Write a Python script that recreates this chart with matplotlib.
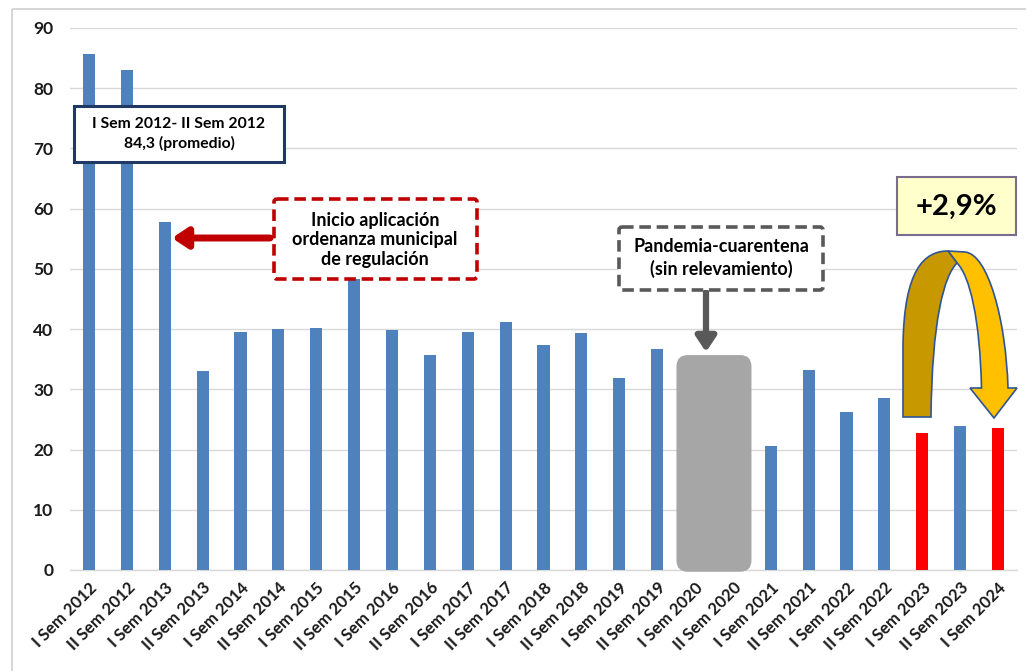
import matplotlib
matplotlib.use("Agg")
import matplotlib.pyplot as plt
from matplotlib.patches import Rectangle, FancyBboxPatch, PathPatch
from matplotlib.path import Path
from matplotlib.transforms import Affine2D

# ---------------- data ----------------
categories = [
    "I Sem 2012", "II Sem 2012", "I Sem 2013", "II Sem 2013", "I Sem 2014",
    "II Sem 2014", "I Sem 2015", "II Sem 2015", "I Sem 2016", "II Sem 2016",
    "I Sem 2017", "II Sem 2017", "I Sem 2018", "II Sem 2018", "I Sem 2019",
    "II Sem 2019", "I Sem 2020", "II Sem 2020", "I Sem 2021", "II Sem 2021",
    "I Sem 2022", "II Sem 2022", "I Sem 2023", "II Sem 2023", "I Sem 2024",
]
values = [85.7, 83.0, 57.8, 33.1, 39.5, 40.0, 40.2, 52.0, 39.9, 35.7,
          39.5, 41.2, 37.4, 39.4, 31.9, 36.7, None, None, 20.6, 33.2,
          26.2, 28.6, 22.8, 23.9, 23.5]
highlight = ["I Sem 2023", "I Sem 2024"]
y_ticks = [0, 10, 20, 30, 40, 50, 60, 70, 80, 90]

W, H = 1026, 671
BLUE = "#4F81BD"
RED = "#FF0000"

plt.rcParams["font.family"] = ["Lato", "DejaVu Sans"]

fig = plt.figure(figsize=(W / 100, H / 100), dpi=100)
fig.patch.set_facecolor("white")
ax = fig.add_axes([70 / W, 1 - 570 / H, (1017 - 70) / W, (570 - 28) / H])

# pixel transform (reference image pixels, origin top-left)
pix = Affine2D().scale(1, -1).translate(0, H)

# outer frame
fig.patches.append(Rectangle((12, 9), 1040, 700, transform=pix, fill=False,
                             edgecolor="#D0D0D0", lw=1.2, zorder=0))

xs = list(range(len(categories)))
for x, c, v in zip(xs, categories, values):
    if v is None:
        continue
    ax.bar(x, v, width=0.32, color=RED if c in highlight else BLUE, zorder=3)

ax.set_xlim(-0.5, len(categories) - 0.5)
ax.set_ylim(0, 90)
ax.set_yticks(y_ticks)
ax.set_yticklabels([str(t) for t in y_ticks], fontsize=12.5, fontweight="bold",
                   color="#1a1a1a")
ax.set_xticks(xs)
ax.set_xticklabels(categories, rotation=45, ha="right", rotation_mode="anchor",
                   fontsize=12, fontweight="bold", color="#1a1a1a")
ax.tick_params(axis="y", length=0, pad=12)
ax.tick_params(axis="x", length=0, pad=7)
ax.yaxis.grid(True, color="#D9D9D9", lw=1, zorder=0)
ax.set_axisbelow(True)
for s in ["top", "right", "left"]:
    ax.spines[s].set_visible(False)
ax.spines["bottom"].set_color("#D9D9D9")
ax.spines["bottom"].set_linewidth(1)

# pandemic grey block (I/II Sem 2020)
i20 = categories.index("I Sem 2020")
i20b = categories.index("II Sem 2020")
cx = (i20 + i20b) / 2
bw = 1.98
blk = FancyBboxPatch((cx - bw / 2 + 0.3, -0.3 + 1.9), bw - 0.6, 36.0 - 3.8,
                     boxstyle="round,pad=0.3", mutation_aspect=6.3,
                     facecolor="#A6A6A6", edgecolor="none", zorder=4,
                     clip_on=False)
ax.add_patch(blk)

# ---- annotation boxes (reference pixel coords) ----
def box(x0, y0, x1, y1, ec, fc="white", ls="-", lw=2.0, rnd=0.0, z=6):
    p = FancyBboxPatch((x0, y0), x1 - x0, y1 - y0,
                       boxstyle=f"round,pad=0,rounding_size={rnd}" if rnd else "square,pad=0",
                       transform=pix, facecolor=fc, edgecolor=ec, lw=lw,
                       linestyle=ls, zorder=z)
    fig.patches.append(p)

box(74, 106, 284, 162, "#1F3864", lw=2.2)
fig.text(179, 134, "I Sem 2012- II Sem 2012\n84,3 (promedio)", transform=pix,
         ha="center", va="center", fontsize=11.3, fontweight="bold",
         linespacing=1.4, zorder=7)

box(274, 199, 477, 279, "#C00000", ls=(0, (3.2, 1.6)), lw=2.6, rnd=3)
fig.text(375, 240, "Inicio aplicación\nordenanza municipal\nde regulación",
         transform=pix, ha="center", va="center", fontsize=13,
         fontweight="bold", linespacing=1.2, zorder=7)

box(619, 227, 823, 290, "#595959", ls=(0, (3.2, 1.6)), lw=2.6, rnd=3)
fig.text(721, 258, "Pandemia-cuarentena\n(sin relevamiento)", transform=pix,
         ha="center", va="center", fontsize=13, fontweight="bold",
         linespacing=1.3, zorder=7)

box(897, 177, 1016, 235, "#7A6C8E", fc="#FFFFCC", lw=1.5)
fig.text(956, 207, "+2,9%", transform=pix, ha="center", va="center",
         fontsize=21, fontweight="bold", zorder=7)

# arrows
ax.annotate("", xy=(172, 238), xytext=(270, 238), xycoords=pix, textcoords=pix,
            arrowprops=dict(arrowstyle="-|>,head_length=0.9,head_width=0.6",
                            color="#C00000", lw=5, shrinkA=0, shrinkB=0),
            zorder=8, annotation_clip=False)
ax.annotate("", xy=(706, 352), xytext=(706, 292), xycoords=pix, textcoords=pix,
            arrowprops=dict(arrowstyle="-|>,head_length=0.9,head_width=0.6",
                            color="#595959", lw=4.5, shrinkA=0, shrinkB=0),
            zorder=8, annotation_clip=False)

# curved U arrow (Bezier outlines)
M, L, C, CL = Path.MOVETO, Path.LINETO, Path.CURVE4, Path.CLOSEPOLY
light_v = [(948, 251), (965, 252),
           (988, 254), (1006, 320), (1008, 388),
           (1017, 388), (994, 418), (970, 388), (981.5, 388),
           (980, 320), (970, 276), (957, 263),
           (948, 251)]
light_c = [M, L, C, C, C, L, L, L, L, C, C, C, CL]
dark_v = [(903, 417), (903, 345),
          (904, 270), (924, 251), (948, 251),
          (957, 263),
          (944, 276), (932, 320), (931, 417),
          (903, 417)]
dark_c = [M, L, C, C, C, L, C, C, C, CL]
fig.patches.append(PathPatch(Path(light_v, light_c), transform=pix,
                             facecolor="#FFC000", edgecolor="#2F5597", lw=1.2,
                             zorder=8))
fig.patches.append(PathPatch(Path(dark_v, dark_c), transform=pix,
                             facecolor="#C89800", edgecolor="#2F5597", lw=1.2,
                             zorder=9))

fig.savefig("out.png", dpi=100)
